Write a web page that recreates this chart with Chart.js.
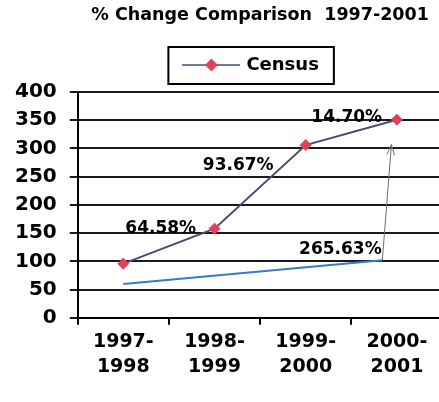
<!DOCTYPE html>
<html>
<head>
<meta charset="utf-8">
<script src="https://cdn.jsdelivr.net/npm/chart.js@4/dist/chart.umd.min.js"></script>
<style>
  html, body { margin: 0; padding: 0; background: #fff; overflow: hidden; }
  canvas { display: block; }
</style>
</head>
<body>
<canvas id="c" width="449" height="402"></canvas>
<script>
// ---- data ----
const categories = [['1997-', '1998'], ['1998-', '1999'], ['1999-', '2000'], ['2000-', '2001']];
const censusValues = [96, 158, 306, 351];
const changeLabels = ['64.58%', '93.67%', '14.70%'];
const totalChangeLabel = '265.63%';
const yTickMin = 0, yTickMax = 400, yTickStep = 50;

// ---- annotation layout (data-space anchors) ----
const annot = {
  segLabelX: [0.41, 1.26, 2.45],
  segLabelY: [158, 270, 355],
  totalLabelX: 2.38, totalLabelY: 121,
  trendFrom: [0, 60], trendTo: [2.84, 102],
  arrowTo: [2.94, 307]
};

const FONT = '"DejaVu Sans", sans-serif';

// legend sample: line with diamond marker
const legendSample = document.createElement('canvas');
legendSample.width = 58; legendSample.height = 16;
(function () {
  const g = legendSample.getContext('2d');
  g.strokeStyle = '#6b7ba3'; g.lineWidth = 2;
  g.beginPath(); g.moveTo(0, 8); g.lineTo(58, 8); g.stroke();
  g.fillStyle = '#e0405a';
  g.beginPath(); g.moveTo(29, 1.5); g.lineTo(35.5, 8); g.lineTo(29, 14.5); g.lineTo(22.5, 8); g.closePath(); g.fill();
})();

const annotPlugin = {
  id: 'annot',
  afterLayout(chart) {
    const lg = chart.legend;
    if (lg) { lg.left -= 8; lg.right -= 8; }
  },
  afterDatasetsDraw(chart) {
    const ctx = chart.ctx, xs = chart.scales.x, ys = chart.scales.y;
    const px = v => xs.getPixelForValue(v), py = v => ys.getPixelForValue(v);
    ctx.save();
    // trend line
    ctx.strokeStyle = '#3a78d0'; ctx.lineWidth = 2;
    ctx.beginPath();
    ctx.moveTo(px(annot.trendFrom[0]), py(annot.trendFrom[1]));
    ctx.lineTo(px(annot.trendTo[0]), py(annot.trendTo[1]));
    ctx.stroke();
    // arrow
    const ax0 = px(annot.trendTo[0]), ay0 = py(annot.trendTo[1]);
    const ax1 = px(annot.arrowTo[0]), ay1 = py(annot.arrowTo[1]);
    ctx.strokeStyle = '#6a6f80'; ctx.lineWidth = 1;
    ctx.beginPath(); ctx.moveTo(ax0, ay0); ctx.lineTo(ax1, ay1); ctx.stroke();
    const ang = Math.atan2(ay1 - ay0, ax1 - ax0);
    const hl = 11;
    ctx.beginPath();
    ctx.moveTo(ax1 - hl * Math.cos(ang - 0.35), ay1 - hl * Math.sin(ang - 0.35));
    ctx.lineTo(ax1, ay1);
    ctx.lineTo(ax1 - hl * Math.cos(ang + 0.35), ay1 - hl * Math.sin(ang + 0.35));
    ctx.stroke();
    // labels
    ctx.fillStyle = '#000';
    ctx.font = 'bold 17px ' + FONT;
    ctx.textAlign = 'center'; ctx.textBaseline = 'middle';
    changeLabels.forEach((t, i) => ctx.fillText(t, px(annot.segLabelX[i]), py(annot.segLabelY[i])));
    ctx.fillText(totalChangeLabel, px(annot.totalLabelX), py(annot.totalLabelY));
    ctx.restore();
  },
  afterDraw(chart) {
    const lg = chart.legend;
    if (!lg || !lg.legendHitBoxes || !lg.legendHitBoxes.length) return;
    const hb = lg.legendHitBoxes[0];
    const ctx = chart.ctx;
    ctx.save();
    ctx.strokeStyle = '#000'; ctx.lineWidth = 2;
    ctx.strokeRect(hb.left - 17, hb.top - 9, hb.width + 32, hb.height + 19);
    ctx.restore();
  }
};

new Chart(document.getElementById('c'), {
  type: 'line',
  data: {
    labels: categories,
    datasets: [{
      label: 'Census',
      data: censusValues,
      borderColor: '#454d70',
      borderWidth: 2,
      tension: 0,
      pointStyle: 'rectRot',
      pointRadius: 5.5,
      pointBackgroundColor: '#e0405a',
      pointBorderColor: '#e0405a',
      pointBorderWidth: 1
    }]
  },
  options: {
    responsive: false,
    animation: false,
    events: [],
    layout: { padding: { left: 2, right: 1, top: 0, bottom: 17 } },
    plugins: {
      title: {
        display: true,
        text: '% Change Comparison  1997-2001',
        fullSize: false,
        color: '#000',
        font: { family: FONT, size: 17.5, weight: 'bold', lineHeight: 1.2 },
        padding: { top: 5, bottom: 12 }
      },
      subtitle: {
        display: true,
        text: '',
        fullSize: false,
        weight: 500,
        font: { size: 1, lineHeight: 1 },
        padding: { top: 0, bottom: 7 }
      },
      legend: {
        display: true,
        fullSize: false,
        labels: {
          color: '#000',
          font: { family: FONT, size: 18, weight: 'bold' },
          usePointStyle: true,
          pointStyle: legendSample,
          pointStyleWidth: 52,
          padding: 18
        }
      },
      tooltip: { enabled: false }
    },
    scales: {
      x: {
        offset: true,
        grid: { offset: true, drawOnChartArea: false, color: '#000', lineWidth: 2, tickLength: 7 },
        border: { color: '#000', width: 2 },
        ticks: { color: '#000', font: { family: FONT, size: 19, weight: 'bold', lineHeight: 1.32 }, padding: 5, maxRotation: 0 }
      },
      y: {
        min: yTickMin, max: yTickMax,
        grid: { color: '#1a1a1a', lineWidth: 2, tickLength: 8 },
        border: { color: '#000', width: 2 },
        ticks: { stepSize: yTickStep, color: '#000', font: { family: FONT, size: 20, weight: 'bold' }, padding: 13 }
      }
    }
  },
  plugins: [annotPlugin]
});
</script>
</body>
</html>
